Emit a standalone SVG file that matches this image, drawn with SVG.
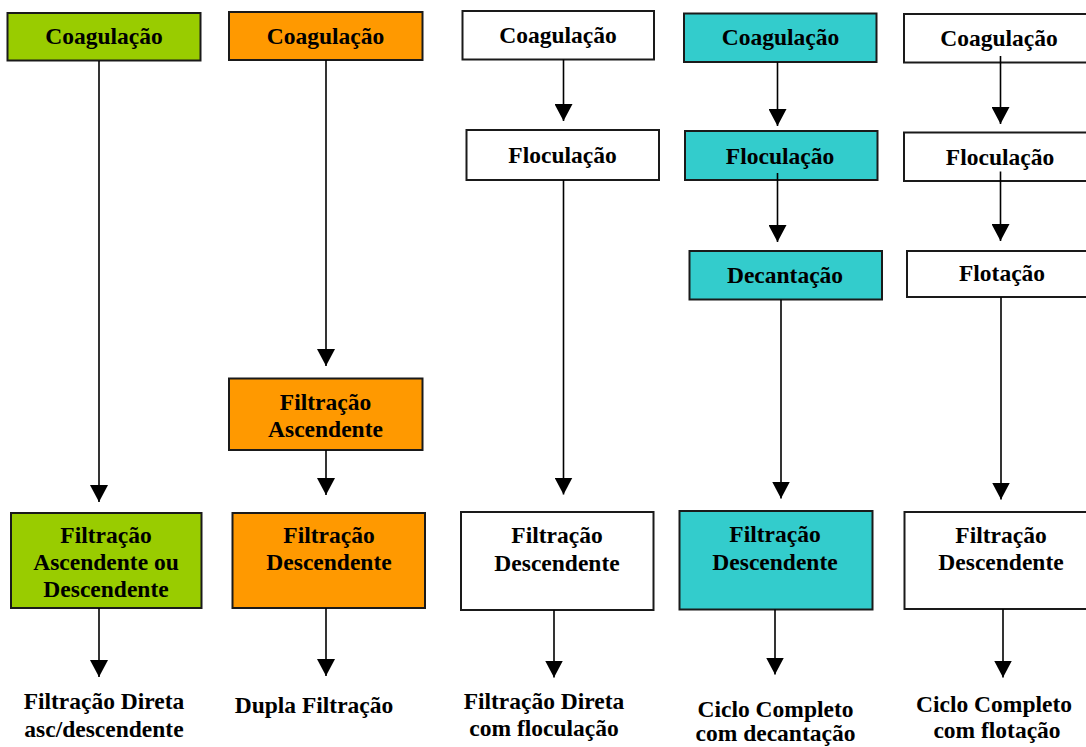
<svg xmlns="http://www.w3.org/2000/svg" width="1086" height="747" viewBox="0 0 1086 747">
  <style>
    .box { stroke: #1a1a1a; stroke-width: 2; }
    .green { fill: #99CC00; }
    .orange { fill: #FF9900; }
    .teal { fill: #33CCCC; }
    .white { fill: #FFFFFF; }
    .lbl { font-family: "Liberation Serif", "Times New Roman", serif; font-weight: bold; font-size: 23.5px; fill: #000; text-anchor: middle; }
    .conn line { stroke: #000; stroke-width: 1.6; marker-end: url(#arrow); }
  </style>
  <defs>
    <marker id="arrow" markerUnits="userSpaceOnUse" markerWidth="18" markerHeight="18" refX="17" refY="9" orient="auto" viewBox="0 0 18 18">
      <path d="M0,0 L17,9 L0,18 z" fill="#000"/>
    </marker>
  </defs>
  <rect width="1086" height="747" fill="#FFFFFF"/>

  <!-- Column 1: direct filtration (green) -->
  <g id="c1-coag">
    <rect class="box green" x="7.5" y="13" width="193" height="47.5"/>
    <text class="lbl" x="104" y="44">Coagulação</text>
  </g>
  <g id="c1-filt">
    <rect class="box green" x="11" y="513" width="190.5" height="95"/>
    <text class="lbl" x="106" y="543">Filtração</text>
    <text class="lbl" x="106" y="570">Ascendente ou</text>
    <text class="lbl" x="106" y="597">Descendente</text>
  </g>
  <g id="c1-result">
    <text class="lbl" x="104" y="709">Filtração Direta</text>
    <text class="lbl" x="104" y="737">asc/descendente</text>
  </g>

  <!-- Column 2: double filtration (orange) -->
  <g id="c2-coag">
    <rect class="box orange" x="229" y="12" width="193.5" height="48"/>
    <text class="lbl" x="325.5" y="44">Coagulação</text>
  </g>
  <g id="c2-asc">
    <rect class="box orange" x="229" y="378.5" width="193.5" height="71.5"/>
    <text class="lbl" x="325.5" y="410">Filtração</text>
    <text class="lbl" x="325.5" y="437">Ascendente</text>
  </g>
  <g id="c2-desc">
    <rect class="box orange" x="232.5" y="513" width="192.5" height="95"/>
    <text class="lbl" x="329" y="543">Filtração</text>
    <text class="lbl" x="329" y="570">Descendente</text>
  </g>
  <g id="c2-result">
    <text class="lbl" x="314" y="713">Dupla Filtração</text>
  </g>

  <!-- Column 3: direct filtration with flocculation (white) -->
  <g id="c3-coag">
    <rect class="box white" x="462.5" y="11" width="191.5" height="48.5"/>
    <text class="lbl" x="558" y="43">Coagulação</text>
  </g>
  <g id="c3-floc">
    <rect class="box white" x="466.5" y="130" width="192.5" height="50"/>
    <text class="lbl" x="562.5" y="163">Floculação</text>
  </g>
  <g id="c3-desc">
    <rect class="box white" x="461" y="512" width="192.5" height="98"/>
    <text class="lbl" x="557" y="543">Filtração</text>
    <text class="lbl" x="557" y="570.5">Descendente</text>
  </g>
  <g id="c3-result">
    <text class="lbl" x="544" y="709">Filtração Direta</text>
    <text class="lbl" x="544" y="736">com floculação</text>
  </g>

  <!-- Column 4: complete cycle with settling (teal) -->
  <g id="c4-coag">
    <rect class="box teal" x="684" y="13.5" width="192.5" height="48.5"/>
    <text class="lbl" x="780.5" y="45">Coagulação</text>
  </g>
  <g id="c4-floc">
    <rect class="box teal" x="685" y="131" width="192.5" height="49"/>
    <text class="lbl" x="780" y="163.5">Floculação</text>
  </g>
  <g id="c4-dec">
    <rect class="box teal" x="689.5" y="251" width="192.5" height="48.5"/>
    <text class="lbl" x="785" y="283">Decantação</text>
  </g>
  <g id="c4-desc">
    <rect class="box teal" x="679.5" y="511" width="193" height="98.5"/>
    <text class="lbl" x="775" y="542">Filtração</text>
    <text class="lbl" x="775" y="569.5">Descendente</text>
  </g>
  <g id="c4-result">
    <text class="lbl" x="775.5" y="717">Ciclo Completo</text>
    <text class="lbl" x="775.5" y="740.5">com decantação</text>
  </g>

  <!-- Column 5: complete cycle with flotation (white) -->
  <g id="c5-coag">
    <rect class="box white" x="904" y="14" width="190" height="48.5"/>
    <text class="lbl" x="999" y="45.5">Coagulação</text>
  </g>
  <g id="c5-floc">
    <rect class="box white" x="904" y="132.5" width="190" height="48.5"/>
    <text class="lbl" x="1000" y="164.5">Floculação</text>
  </g>
  <g id="c5-flot">
    <rect class="box white" x="907" y="251" width="190" height="46"/>
    <text class="lbl" x="1002" y="281">Flotação</text>
  </g>
  <g id="c5-desc">
    <rect class="box white" x="904.5" y="512" width="190" height="97"/>
    <text class="lbl" x="1001" y="543">Filtração</text>
    <text class="lbl" x="1001" y="570">Descendente</text>
  </g>
  <g id="c5-result">
    <text class="lbl" x="994" y="712">Ciclo Completo</text>
    <text class="lbl" x="997" y="738">com flotação</text>
  </g>

  <!-- Connectors: vertical flow arrows -->
  <g id="connectors" class="conn">
    <line x1="99" y1="61" x2="99" y2="502"/>
    <line x1="99" y1="608" x2="99" y2="677"/>

    <line x1="326" y1="60" x2="326" y2="366"/>
    <line x1="326" y1="450" x2="326" y2="495"/>
    <line x1="326" y1="608" x2="326" y2="676"/>

    <line x1="563.5" y1="59.5" x2="563.5" y2="121"/>
    <line x1="563.5" y1="180" x2="563.5" y2="494.5"/>
    <line x1="554" y1="610" x2="554" y2="677.5"/>

    <line x1="777.5" y1="62" x2="777.5" y2="126"/>
    <line x1="777.5" y1="173" x2="777.5" y2="242"/>
    <line x1="781" y1="299.5" x2="781" y2="498.5"/>
    <line x1="775" y1="609.5" x2="775" y2="674.5"/>

    <line x1="1000.5" y1="56" x2="1000.5" y2="124"/>
    <line x1="1000.5" y1="171.5" x2="1000.5" y2="241"/>
    <line x1="1001" y1="297" x2="1001" y2="499.5"/>
    <line x1="1003" y1="609" x2="1003" y2="677.5"/>
  </g>
</svg>
